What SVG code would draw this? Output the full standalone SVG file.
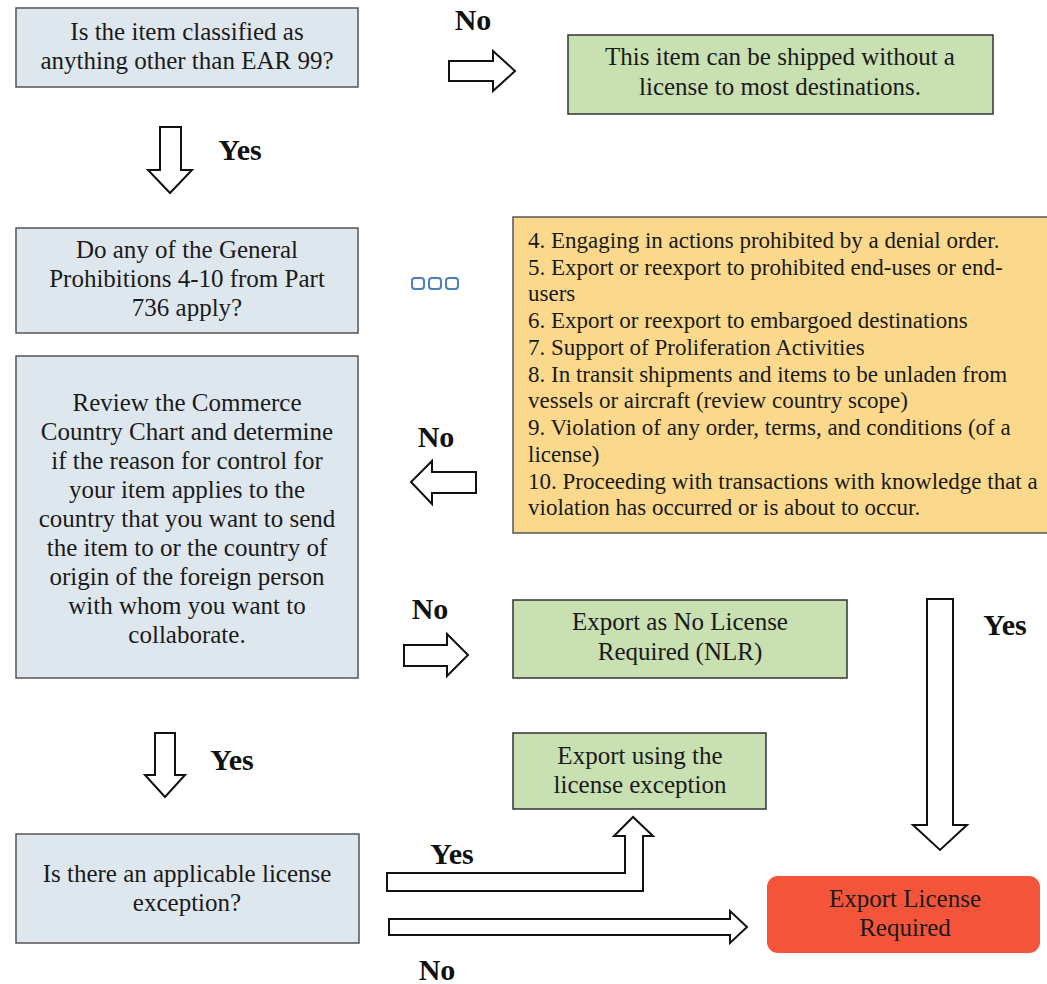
<svg xmlns="http://www.w3.org/2000/svg" width="1047" height="984" viewBox="0 0 1047 984">
<style>
.t{font-family:"Liberation Serif","Times New Roman",serif;font-size:25px;fill:#1a1a1a;text-anchor:middle}
.l{font-family:"Liberation Serif","Times New Roman",serif;font-size:23px;fill:#1a1a1a}
.b{font-family:"Liberation Serif","Times New Roman",serif;font-size:30px;font-weight:bold;fill:#111;text-anchor:middle}
.blue{fill:#dfe7ee;stroke:#555;stroke-width:1.5}
.green{fill:#c8e0b2;stroke:#333;stroke-width:1.5}
.orange{fill:#fbd98c;stroke:#555;stroke-width:1.5}
.arrow{fill:#fff;stroke:#111;stroke-width:2;stroke-linejoin:miter}
.dot{fill:#fff;stroke:#4a7fc0;stroke-width:2}
</style>
<rect width="1047" height="984" fill="#fff"/>
<g id="q1">
<rect class="blue" x="16" y="8" width="342" height="79"/>
<text class="t" x="187" y="40">Is the item classified as</text>
<text class="t" x="187" y="69">anything other than EAR 99?</text>
</g>
<g id="ship">
<rect class="green" x="568" y="35" width="425" height="79"/>
<text class="t" x="780" y="65">This item can be shipped without a</text>
<text class="t" x="780" y="95">license to most destinations.</text>
</g>
<g id="q2">
<rect class="blue" x="16" y="228" width="342" height="105"/>
<text class="t" x="187" y="258">Do any of the General</text>
<text class="t" x="187" y="287">Prohibitions 4-10 from Part</text>
<text class="t" x="187" y="316">736 apply?</text>
</g>
<g id="more">
<rect class="dot" x="412" y="278" width="12" height="11" rx="3"/>
<rect class="dot" x="429" y="278" width="12" height="11" rx="3"/>
<rect class="dot" x="446" y="278" width="12" height="11" rx="3"/>
</g>
<g id="prohibitions">
<rect class="orange" x="513" y="217" width="560" height="316"/>
<text class="l" x="528" y="248">4. Engaging in actions prohibited by a denial order.</text>
<text class="l" x="528" y="275">5. Export or reexport to prohibited end-uses or end-</text>
<text class="l" x="528" y="301">users</text>
<text class="l" x="528" y="328">6. Export or reexport to embargoed destinations</text>
<text class="l" x="528" y="355">7. Support of Proliferation Activities</text>
<text class="l" x="528" y="382">8. In transit shipments and items to be unladen from</text>
<text class="l" x="528" y="408">vessels or aircraft (review country scope)</text>
<text class="l" x="528" y="435">9. Violation of any order, terms, and conditions (of a</text>
<text class="l" x="528" y="462">license)</text>
<text class="l" x="528" y="489">10. Proceeding with transactions with knowledge that a</text>
<text class="l" x="528" y="515">violation has occurred or is about to occur.</text>
</g>
<g id="q3">
<rect class="blue" x="16" y="356" width="342" height="322"/>
<text class="t" x="187" y="411">Review the Commerce</text>
<text class="t" x="187" y="440">Country Chart and determine</text>
<text class="t" x="187" y="469">if the reason for control for</text>
<text class="t" x="187" y="498">your item applies to the</text>
<text class="t" x="187" y="527">country that you want to send</text>
<text class="t" x="187" y="556">the item to or the country of</text>
<text class="t" x="187" y="585">origin of the foreign person</text>
<text class="t" x="187" y="614">with whom you want to</text>
<text class="t" x="187" y="643">collaborate.</text>
</g>
<g id="nlr">
<rect class="green" x="513" y="600" width="334" height="78"/>
<text class="t" x="680" y="630">Export as No License</text>
<text class="t" x="680" y="660">Required (NLR)</text>
</g>
<g id="exception">
<rect class="green" x="513" y="733" width="253" height="76"/>
<text class="t" x="640" y="764">Export using the</text>
<text class="t" x="640" y="793">license exception</text>
</g>
<g id="q4">
<rect class="blue" x="16" y="834" width="343" height="109"/>
<text class="t" x="187" y="882">Is there an applicable license</text>
<text class="t" x="187" y="911">exception?</text>
</g>
<g id="required">
<rect x="767" y="876" width="273" height="77" rx="11" fill="#f4553a"/>
<text class="t" x="905" y="907">Export License</text>
<text class="t" x="905" y="936">Required</text>
</g>
<g id="connectors">
<path class="arrow" d="M449,61 H493 V51 L515,71 L493,91 V81 H449 Z"/>
<text class="b" x="473" y="30">No</text>
<path class="arrow" d="M160,127 H181 V170 H192 L170,193 L148,170 H160 Z"/>
<text class="b" x="240" y="160">Yes</text>
<path class="arrow" d="M476,472 H432 V461 L411,482 L432,504 V493 H476 Z"/>
<text class="b" x="436" y="447">No</text>
<path class="arrow" d="M404,645 H447 V634 L468,655 L447,676 V666 H404 Z"/>
<text class="b" x="430" y="619">No</text>
<path class="arrow" d="M155,733 H175 V775 H185 L165,797 L145,775 H155 Z"/>
<text class="b" x="232" y="770">Yes</text>
<path class="arrow" d="M387,873 H625 V836 H614 L633,817 L653,836 H643 V891 H387 Z"/>
<text class="b" x="452" y="864">Yes</text>
<path class="arrow" d="M389,919 H730 V911 L747,927 L730,943 V935 H389 Z"/>
<text class="b" x="437" y="980">No</text>
<path class="arrow" d="M927,599 H953 V825 H967 L940,850 L913,825 H927 Z"/>
<text class="b" x="1005" y="635">Yes</text>
</g>
</svg>
